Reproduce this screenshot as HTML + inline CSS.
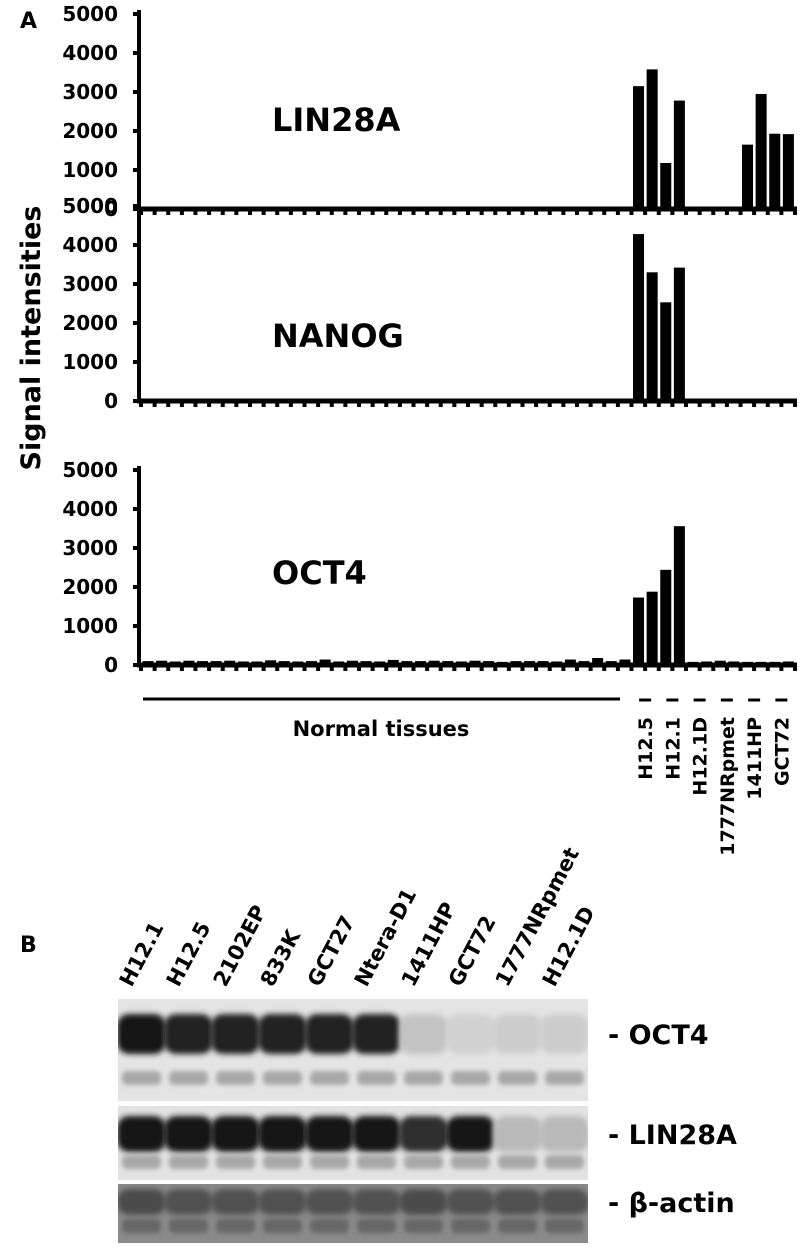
<!DOCTYPE html>
<html><head><meta charset="utf-8"><style>
body{margin:0;background:#fff;width:800px;height:1248px;overflow:hidden}
svg text{font-family:"DejaVu Sans","Liberation Sans",sans-serif;font-weight:bold;fill:#000}
</style></head><body>
<svg id="fig" width="800" height="1248" viewBox="0 0 800 1248" xmlns="http://www.w3.org/2000/svg">
<defs>
<filter id="blur" x="-20%" y="-50%" width="140%" height="200%"><feGaussianBlur stdDeviation="3"/></filter>
<filter id="blur2" x="-20%" y="-50%" width="140%" height="200%"><feGaussianBlur stdDeviation="2.5"/></filter>
</defs>
<text x="20" y="28" font-size="22">A</text>
<text x="20" y="952" font-size="22">B</text>
<text transform="translate(40,338) rotate(-90)" text-anchor="middle" font-size="27">Signal intensities</text>
<g id="charts"></g>
<g id="xlab"></g>
<g id="blot"></g>
</svg>
<script>
const normalCount = 36;
const cellLines = ["H12.5","H12.1","H12.1D","1777NRpmet","1411HP","GCT72"];
const genes = ["LIN28A","NANOG","OCT4"];
const yTicks = [0,1000,2000,3000,4000,5000];
const lin28aNormal = new Array(36).fill(0);
const lin28aCell = [3150,3580,1180,2780,0,0,0,0,1650,2950,1930,1920];
const nanogNormal = [20,20,20,20,20,20,20,20,20,20,20,20,20,20,20,20,20,60,20,20,20,20,20,20,20,20,20,40,20,20,40,60,20,60,20,40];
const nanogCell = [4280,3300,2530,3420,10,10,10,10,10,10,10,10];
const oct4Normal = [100,110,90,110,100,100,110,90,90,120,100,90,100,140,90,110,100,90,130,100,100,110,100,90,110,100,80,100,100,100,90,140,100,180,100,140];
const oct4Cell = [1730,1880,2440,3560,80,90,110,90,80,80,80,90];
const blotLanes = ["H12.1","H12.5","2102EP","833K","GCT27","Ntera-D1","1411HP","GCT72","1777NRpmet","H12.1D"];
const oct4Band = [1,0.95,0.95,0.95,0.95,0.95,0.15,0.08,0.1,0.1];
const lin28aBand = [1,1,1,1,1,1,0.9,1,0.2,0.2];
const actinBand = [0.75,0.72,0.72,0.72,0.72,0.72,0.75,0.72,0.72,0.72];

const NS="http://www.w3.org/2000/svg";
function mk(tag,attrs,parent){const e=document.createElementNS(NS,tag);for(const k in attrs)e.setAttribute(k,attrs[k]);parent.appendChild(e);return e;}
const X0=141,X1=795,N=normalCount+cellLines.length*2,STEP=(X1-X0)/N;
function xPos(i){return X0+i*STEP;}
const panels=[{top:14,base:209,vals:lin28aNormal.concat(lin28aCell),lx:272,ly:131},
 {top:206,base:401,vals:nanogNormal.concat(nanogCell),lx:272,ly:347},
 {top:470,base:665,vals:oct4Normal.concat(oct4Cell),lx:272,ly:584}];
const charts=document.getElementById('charts');
panels.forEach((p,pi)=>{
 const g=mk('g',{},charts);
 
 
 const yv=v=>p.base-(v/5000)*(p.base-p.top);
 yTicks.forEach(t=>{
  const tk=mk('line',{x1:133,x2:141,y1:yv(t),y2:yv(t),stroke:'#000','stroke-width':4},g);
  
  
  const tl=mk('text',{x:118,y:yv(t)+7,'text-anchor':'end','font-size':20},g);
  tl.textContent=t;
  
  
 });
 p.vals.forEach((v,i)=>{
  const h=(v/5000)*(p.base-p.top);
  const b=mk('rect',{x:xPos(i)+1.5,y:p.base-h,width:STEP-2.6,height:h,fill:'#000'},g);
  
  
 });
 const ax=mk('line',{x1:139,x2:139,y1:p.top-4,y2:p.base+2,stroke:'#000','stroke-width':4},g);
 
 
 const xa=mk('line',{x1:137,x2:797,y1:p.base,y2:p.base,stroke:'#000','stroke-width':5},g);
 
 
 for(let i=0;i<=N;i++){
  const t=mk('rect',{x:xPos(i)-2,y:p.base,width:4,height:6,fill:'#000'},g);
  
  
 }
 const gl=mk('text',{x:p.lx,y:p.ly,'font-size':32},g);
 gl.textContent=genes[pi];
 
 
});
const xl=document.getElementById('xlab');
const nl=mk('line',{x1:143,x2:620,y1:699,y2:699,stroke:'#000','stroke-width':3},xl);


const nt=mk('text',{x:381,y:736,'text-anchor':'middle','font-size':21,'font-family':'Liberation Sans'},xl);
nt.textContent='Normal tissues';


cellLines.forEach((c,k)=>{
 const cx=xPos(normalCount+2*k+1);
 const d=mk('line',{x1:cx-6,x2:cx+6,y1:700,y2:700,stroke:'#000','stroke-width':3},xl);
 
 
 const t=mk('text',{transform:`translate(${cx+7},717) rotate(-90)`,'text-anchor':'end','font-size':19},xl);
 t.textContent=c;
 
 
});
// blot
const bl=document.getElementById('blot');
const BX0=118,BX1=588,LW=(BX1-BX0)/blotLanes.length;
blotLanes.forEach((l,i)=>{
 const cx=BX0+LW*(i+0.5);
 const t=mk('text',{transform:`translate(${cx-10},988) rotate(-62)`,'font-size':21,'font-family':'Liberation Sans'},bl);
 t.textContent=l;
 
 
});
const strips=[{name:'OCT4',y:999,h:102,band:oct4Band,by:1034,bh:40,extra:1078,bg:'#e4e4e4'},
 {name:'LIN28A',y:1106,h:74,band:lin28aBand,by:1134,bh:36,extra:1162,bg:'#e2e2e2'},
 {name:'β-actin',y:1184,h:59,band:actinBand,by:1202,bh:26,extra:1226,bg:'#8a8a8a'}];
strips.forEach((s,si)=>{
 const g=mk('g',{},bl);
 
 
 mk('rect',{x:BX0,y:s.y,width:BX1-BX0,height:s.h,fill:s.bg},g);
 const clip='clip'+si;
 const cp=mk('clipPath',{id:clip},g);
 mk('rect',{x:BX0,y:s.y,width:BX1-BX0,height:s.h},cp);
 const gg=mk('g',{'clip-path':`url(#${clip})`},g);
 s.band.forEach((v,i)=>{
  const x=BX0+LW*i;
  const sh=Math.round(225-v*200);
  const b=mk('rect',{x:x-1,y:s.by-s.bh/2,width:LW+2,height:s.bh,rx:12,fill:`rgb(${sh},${sh},${sh})`,filter:'url(#blur)'},gg);
  
  
  mk('rect',{x:x+4,y:s.extra-7,width:LW-8,height:14,rx:5,fill:si===2?'#666':'#a8a8a8',filter:'url(#blur2)'},gg);
 });
 const lt=mk('text',{x:608,y:s.by+10,'font-size':27,'font-family':'Liberation Sans'},g);
 lt.textContent='- '+s.name;
 
 
});
</script>
</body></html>
